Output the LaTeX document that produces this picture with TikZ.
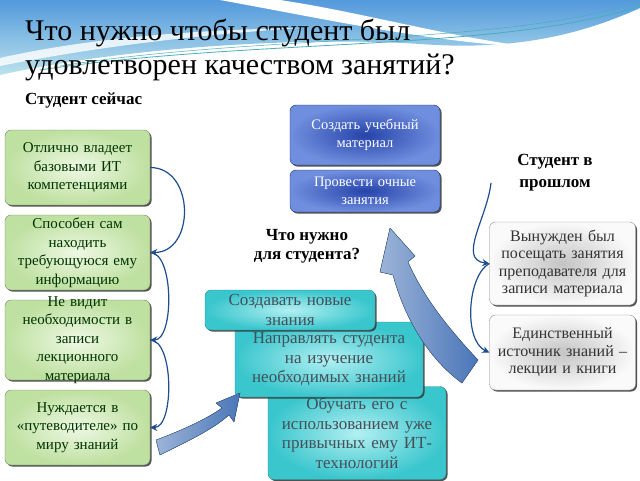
\documentclass[tikz,border=0pt]{standalone}
\usepackage{fontspec}
\setmainfont{Liberation Serif}
\usetikzlibrary{shadows,arrows.meta}

\definecolor{wave}{RGB}{104,192,212}
\definecolor{greenin}{RGB}{238,248,228}
\definecolor{greenout}{RGB}{190,224,160}
\definecolor{bluein}{RGB}{38,68,170}
\definecolor{blueout}{RGB}{112,142,222}
\definecolor{cyanin}{RGB}{178,240,242}
\definecolor{cyanout}{RGB}{58,198,205}
\definecolor{greyin}{RGB}{196,196,196}
\definecolor{greyout}{RGB}{250,250,250}
\definecolor{linkblue}{RGB}{30,76,140}
\definecolor{arrowblue}{RGB}{74,118,184}

\tikzset{
    card/.style={rounded corners=6pt,
        align=center,
        inner sep=2pt,
        shading=radial,
        drop shadow={shadow xshift=1.5pt, shadow yshift=-1.5pt, opacity=.85, fill=black!80}},
    nowcard/.style={card,
        draw=greenout!60!black,
        inner color=greenin,
        outer color=greenout,
        text=black!80!green,
        font=\fontsize{15}{18.5}\selectfont,
        minimum width=145pt,
        text width=140pt},
    taskcard/.style={card,
        draw=bluein!70!black,
        inner color=bluein,
        outer color=blueout,
        text=white,
        font=\fontsize{14.5}{17.5}\selectfont,
        minimum width=150pt,
        text width=144pt},
    needcard/.style={card,
        draw=cyanout!70!black,
        inner color=cyanin,
        outer color=cyanout,
        text=black!75!cyan,
        font=\fontsize{17}{19.5}\selectfont},
    pastcard/.style={card,
        draw=black!45,
        inner color=greyin,
        outer color=greyout,
        text=black!80,
        font=\fontsize{16}{17.5}\selectfont,
        minimum width=145pt,
        text width=142pt},
    caption/.style={align=center, font=\bfseries\fontsize{17}{19}\selectfont},
    link/.style={draw=linkblue, line width=1.2pt, -{Stealth[length=7pt,width=7pt]}},
    bigarrow/.style={left color=arrowblue!55, right color=arrowblue, draw=arrowblue!70!black, line width=.4pt}
}

\begin{document}
\begin{tikzpicture}[x=1pt,y=-1pt]
    \useasboundingbox (0,0) rectangle (640,480);

    \shade[top color=wave!80!blue, bottom color=wave!45] (0,0) -- (640,0) -- (640,8)
        .. controls (570,40) and (500,50) .. (420,44)
        .. controls (300,36) and (120,48) .. (0,75) -- cycle;
    \fill[white] (280,0) .. controls (360,12) and (440,35) .. (530,47)
        .. controls (430,42) and (330,20) .. (220,0) -- cycle;
    \fill[white, opacity=.8] (0,58) .. controls (80,40) and (180,30) .. (300,28)
        .. controls (180,36) and (80,50) .. (0,66) -- cycle;
    \draw[wave!70!teal, line width=.8pt] (40,70) .. controls (250,38) and (500,52) .. (640,6);
    \draw[wave!70!teal, line width=.5pt] (60,66) .. controls (260,34) and (500,46) .. (640,2);

    \node[anchor=west, align=left, inner sep=0pt, font=\fontsize{30}{34}\selectfont, text=black] (title) at (25,50)
        {Что нужно чтобы студент был\\удовлетворен качеством занятий?};
    \node[anchor=west, inner sep=0pt, font=\bfseries\fontsize{17}{19}\selectfont] (nowlabel) at (25,100) {Студент сейчас};

    \node[nowcard, minimum height=75pt] (now1) at (77.5,167.5) {Отлично владеет\\базовыми ИТ\\компетенциями};
    \node[nowcard, minimum height=75pt] (now2) at (77.5,252.5) {Способен сам\\находить\\требующуюся ему\\информацию};
    \node[nowcard, minimum height=80pt, inner ysep=-6pt] (now3) at (77.5,340) {Не видит\\необходимости в\\записи\\лекционного\\материала};
    \node[nowcard, minimum height=75pt] (now4) at (77.5,427.5) {Нуждается в\\«путеводителе» по\\миру знаний};

    \draw[link] (now1.east) .. controls +(45,0) and +(45,0) .. (now2.east);
    \draw[link] (now2.east) .. controls +(24,0) and +(24,0) .. (now3.east);
    \draw[link] (now3.east) .. controls +(24,0) and +(24,0) .. (now4.east);

    \node[taskcard, minimum height=60pt] (task1) at (365,135) {Создать учебный\\материал};
    \node[taskcard, minimum height=42pt] (task2) at (365,191) {Провести очные\\занятия};

    \node[caption] (needlabel) at (307,246) {Что нужно\\для студента?};

    \node[needcard, minimum width=178pt, minimum height=93pt, text width=170pt] (need3) at (357,433)
        {Обучать его с\\использованием уже\\привычных ему ИТ-\\технологий};
    \node[needcard, minimum width=188pt, minimum height=75pt, text width=182pt] (need2) at (329,359.5)
        {Направлять студента\\на изучение\\необходимых знаний};
    \node[needcard, minimum width=170pt, minimum height=40pt, text width=164pt, inner sep=0pt,
        font=\fontsize{17}{20}\selectfont] (need1) at (290,310)
        {Создавать новые\\знания};

    \fill[bigarrow] (160,455) .. controls (190,440) and (212,430) .. (229,415)
        -- (234,422) -- (240,393) -- (216,403) -- (222,408)
        .. controls (205,420) and (180,431) .. (156,440) -- cycle;
    \fill[bigarrow] (462,383) -- (478,360) .. controls (450,330) and (425,300) .. (408,262)
        -- (415,256) -- (390,228) -- (380,272) -- (393,275)
        .. controls (405,320) and (430,360) .. (462,383) -- cycle;

    \node[caption, font=\bfseries\fontsize{17}{22}\selectfont] (pastlabel) at (555,173) {Студент в\\прошлом};

    \node[pastcard, minimum height=83pt] (past1) at (562.5,263.5) {Вынужден был\\посещать занятия\\преподавателя для\\записи материала};
    \node[pastcard, minimum height=75pt] (past2) at (562.5,352.5) {Единственный\\источник знаний –\\лекции и книги};

    \coordinate (pasttop) at (491,183);
    \draw[link] (pasttop) .. controls +(-4,35) and +(-32,-4) .. (past1.west);
    \draw[link] (past1.west) .. controls +(-22,12) and +(-26,-12) .. (past2.west);
\end{tikzpicture}
\end{document}
